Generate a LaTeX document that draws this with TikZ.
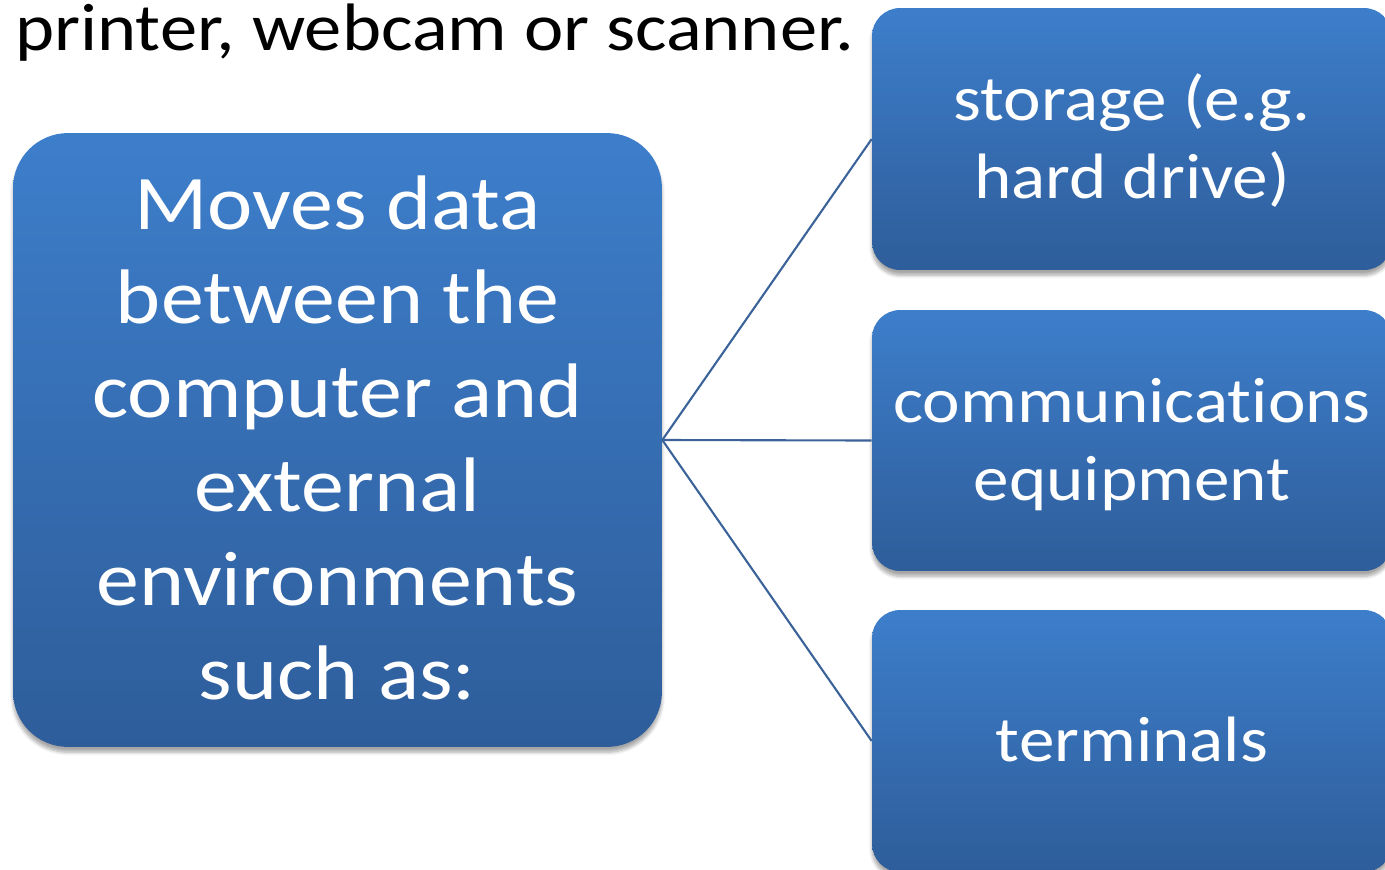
\documentclass[tikz,border=0pt]{standalone}
\usepackage{fontspec}
\setmainfont{Carlito}[RawFeature=-liga]
\usetikzlibrary{shadows.blur}
\definecolor{boxtop}{RGB}{61,126,203}
\definecolor{boxbot}{RGB}{46,93,154}
\definecolor{linkc}{RGB}{59,99,154}
\newcommand{\wide}[1]{\raisebox{-3pt}[\height][\depth]{\scalebox{1.11}[1]{\begin{tabular}{@{}c@{}}#1\end{tabular}}}}
\tikzset{
  bluebox/.style={rounded corners=#1, top color=boxtop, bottom color=boxbot, draw=none,
    text=white, align=center, inner sep=0pt,
    blur shadow={shadow xshift=0pt, shadow yshift=-3pt, shadow blur steps=6, shadow opacity=35}},
  bigtext/.style={font=\fontsize{44}{53.5}\selectfont},
  smalltext/.style={font=\fontsize{36.5}{44.4}\selectfont},
  link/.style={draw=linkc, line width=1.2pt}
}
\begin{document}
\begin{tikzpicture}[x=0.02cm,y=-0.02cm]
\useasboundingbox (0,0) rectangle (1385,869);
\node[anchor=base west, font=\fontsize{38.2}{44}\selectfont, inner sep=0pt] (top) at (15,50) {\scalebox{1.11}[1]{printer, webcam or scanner.}};
\node[bluebox=1.1cm, bigtext, minimum width=12.98cm, minimum height=12.28cm] (main) at (337.5,440)
  {\wide{Moves data\\between the\\computer and\\external\\environments\\such as:}};
\node[bluebox=0.56cm, smalltext, minimum width=10.4cm, minimum height=5.24cm] (b1) at (1132,139) {\wide{storage (e.g.\\hard drive)}};
\node[bluebox=0.56cm, smalltext, minimum width=10.4cm, minimum height=5.22cm] (b2) at (1132,440.5) {\wide{communications\\equipment}};
\node[bluebox=0.56cm, smalltext, minimum width=10.4cm, minimum height=5.24cm] (b3) at (1132,741) {\wide{terminals}};
\draw[link] (main.east) -- (b1.west);
\draw[link] (main.east) -- (b2.west);
\draw[link] (main.east) -- (b3.west);
\end{tikzpicture}
\end{document}
